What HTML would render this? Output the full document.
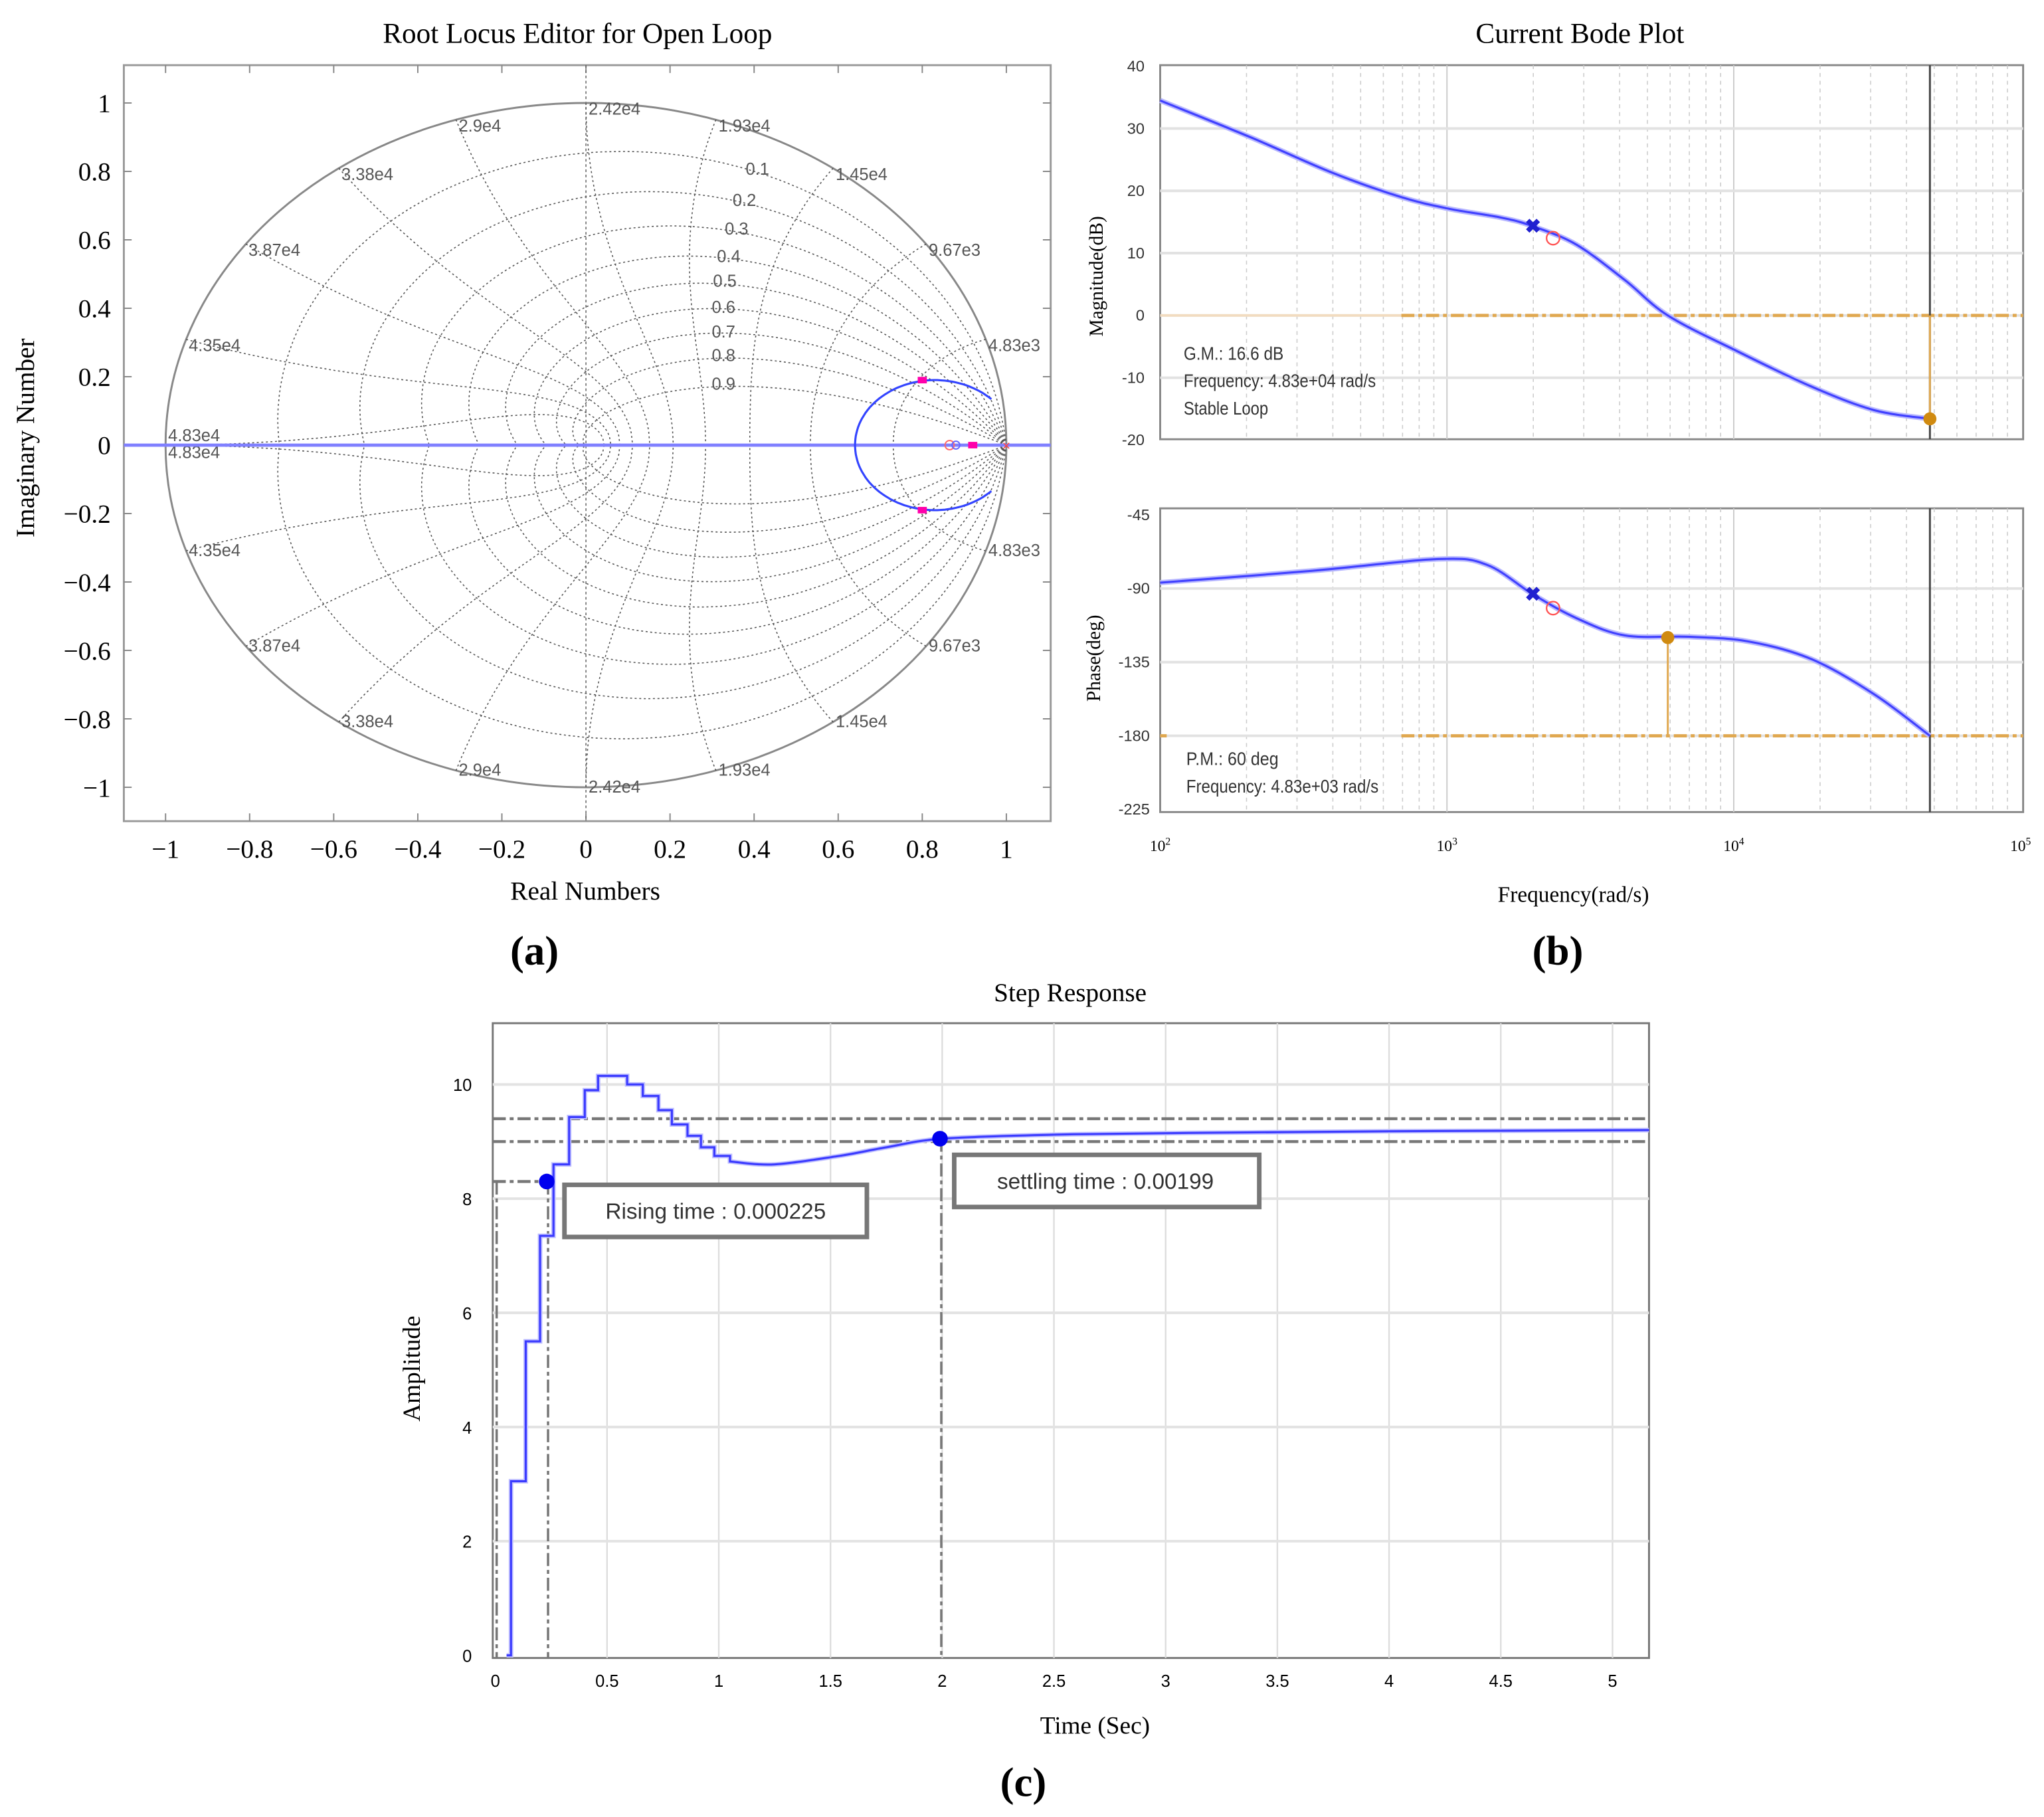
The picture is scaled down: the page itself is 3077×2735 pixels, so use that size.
<!DOCTYPE html>
<html><head><meta charset="utf-8"><style>
html,body{margin:0;padding:0;background:#fff;}
svg{display:block;}
.serif{font-family:"Liberation Serif",serif;}
.sans{font-family:"Liberation Sans",sans-serif;}
</style></head><body>
<svg id="fig" xmlns="http://www.w3.org/2000/svg" width="3077" height="2735" viewBox="0 0 1568 1394" preserveAspectRatio="none">
<rect x="0" y="0" width="1568" height="1394" fill="#fff"/>
<g id="rl"></g>
<g id="bode"></g>
<g id="step"></g>
<text x="410" y="740" class="serif" font-size="32" font-weight="bold" text-anchor="middle">(a)</text>
<text x="1195" y="740" class="serif" font-size="32" font-weight="bold" text-anchor="middle">(b)</text>
<text x="785" y="1378" class="serif" font-size="32" font-weight="bold" text-anchor="middle">(c)</text>
</svg>
<script>
// ---------- data ----------
const rlXTicks=[-1,-0.8,-0.6,-0.4,-0.2,0,0.2,0.4,0.6,0.8,1];
const rlYTicks=[1,0.8,0.6,0.4,0.2,0,-0.2,-0.4,-0.6,-0.8,-1];
const zetaVals=[0.1,0.2,0.3,0.4,0.5,0.6,0.7,0.8,0.9];
const wnLabels=["4.83e3","9.67e3","1.45e4","1.93e4","2.42e4","2.9e4","3.38e4","3.87e4","4.35e4","4.83e4"];
const closedPolesRe=[0.8,0.8,0.92];
const closedPolesIm=[0.19,-0.19,0];
const magW=[2,2.315,2.6,2.84,3.01,3.19,3.30,3.45,3.62,3.77,4.01,4.27,4.49,4.684];
const magDb=[34.5,28.6,22.9,19.0,17.1,15.7,14.3,11.4,5.7,0,-5.7,-11.4,-15.2,-16.6];
const phW=[2,2.53,2.97,3.14,3.30,3.45,3.62,3.84,4.05,4.27,4.49,4.684];
const phDeg=[-86.4,-79.2,-72,-75.6,-93.6,-108,-118.7,-119.5,-122.3,-133.1,-154.7,-180];
const magTicks=[40,30,20,10,0,-10,-20];
const phTicks=[-45,-90,-135,-180,-225];
const stepT=[0.05,0.07,0.136,0.2,0.26,0.33,0.4,0.46,0.59,0.66,0.73,0.79,0.86,0.92,0.98,1.05];
const stepY=[0,3.05,5.5,7.35,8.6,9.43,9.9,10.15,10.0,9.8,9.55,9.3,9.1,8.9,8.75,8.65];
const smoothT=[1.05,1.25,1.54,1.75,2.0,2.5,3.1,4.0,5.15];
const smoothY=[8.65,8.6,8.75,8.9,9.05,9.12,9.15,9.18,9.2];
const stepXTicks=[0,0.5,1,1.5,2,2.5,3,3.5,4,4.5,5];
const stepYTicks=[0,2,4,6,8,10];
const riseT=0.23, riseY=8.3, settleT=1.99, settleY=9.05;
const bandHi=9.4, bandLo=9.0;

const NS="http://www.w3.org/2000/svg";
function mk(parent,tag,attrs,txt){const e=document.createElementNS(NS,tag);for(const k in attrs)e.setAttribute(k,attrs[k]);if(txt!==undefined)e.textContent=txt;parent.appendChild(e);return e;}
const fmt=v=>(v<0?"\u2212":"")+String(Math.abs(v));
function spline(pts){let d="M"+pts[0][0].toFixed(1)+" "+pts[0][1].toFixed(1);
for(let i=0;i<pts.length-1;i++){const p0=pts[Math.max(0,i-1)],p1=pts[i],p2=pts[i+1],p3=pts[Math.min(pts.length-1,i+2)];
const c1=[p1[0]+(p2[0]-p0[0])/6,p1[1]+(p2[1]-p0[1])/6],c2=[p2[0]-(p3[0]-p1[0])/6,p2[1]-(p3[1]-p1[1])/6];
d+="C"+c1[0].toFixed(1)+" "+c1[1].toFixed(1)+" "+c2[0].toFixed(1)+" "+c2[1].toFixed(1)+" "+p2[0].toFixed(1)+" "+p2[1].toFixed(1);}
return d;}

// ---------- root locus ----------
(function(){
const g=document.getElementById('rl');
const X=v=>449.5+v*322.5, Y=v=>341.5-v*262.5;
mk(g,'text',{x:443,y:33,'font-size':22,'text-anchor':'middle',class:'serif',},'Root Locus Editor for Open Loop');
const box=mk(g,'rect',{x:95,y:50,width:711,height:580,fill:'none',stroke:'#999','stroke-width':1.5});

rlXTicks.forEach(v=>{const t=mk(g,'text',{x:X(v),y:658,'font-size':20,'text-anchor':'middle',class:'serif'},fmt(v));

mk(g,'line',{x1:X(v),x2:X(v),y1:50,y2:56,stroke:'#888'});mk(g,'line',{x1:X(v),x2:X(v),y1:624,y2:630,stroke:'#888'});});
rlYTicks.forEach(v=>{const t=mk(g,'text',{x:85,y:Y(v)+7,'font-size':20,'text-anchor':'end',class:'serif'},fmt(v));

mk(g,'line',{x1:95,x2:101,y1:Y(v),y2:Y(v),stroke:'#888'});mk(g,'line',{x1:800,x2:806,y1:Y(v),y2:Y(v),stroke:'#888'});});
const xl=mk(g,'text',{x:449,y:690,'font-size':20,'text-anchor':'middle',class:'serif'},'Real Numbers');

const yl=mk(g,'text',{x:26,y:336,'font-size':20,'text-anchor':'middle',class:'serif',transform:'rotate(-90 26 336)'},'Imaginary Number');

mk(g,'line',{x1:X(0),x2:X(0),y1:50,y2:630,stroke:'#666','stroke-dasharray':'2 2','stroke-width':0.8});
const uc=mk(g,'ellipse',{cx:X(0),cy:Y(0),rx:322.5,ry:262.5,fill:'none',stroke:'#888','stroke-width':1.5});

const dot={fill:'none',stroke:'#555','stroke-width':0.8,'stroke-dasharray':'1.5 2'};
zetaVals.forEach(z=>{const s=Math.sqrt(1-z*z);let d1="",d2="";
for(let i=0;i<=200;i++){const w=Math.PI/s*i/200;const r=Math.exp(-z*w);const a=w*s;
const px=X(r*Math.cos(a)),py1=Y(r*Math.sin(a)),py2=Y(-r*Math.sin(a));
d1+=(i?"L":"M")+px.toFixed(1)+" "+py1.toFixed(1);d2+=(i?"L":"M")+px.toFixed(1)+" "+py2.toFixed(1);}
const p=mk(g,'path',Object.assign({d:d1+d2},dot));});
for(let k=1;k<=10;k++){const wn=k*Math.PI/10;let d1="",d2="";
for(let i=0;i<=100;i++){const z=i/100;const s=Math.sqrt(1-z*z);const r=Math.exp(-z*wn);const a=wn*s;
d1+=(i?"L":"M")+X(r*Math.cos(a)).toFixed(1)+" "+Y(r*Math.sin(a)).toFixed(1);d2+=(i?"L":"M")+X(r*Math.cos(a)).toFixed(1)+" "+Y(-r*Math.sin(a)).toFixed(1);}
const p=mk(g,'path',Object.assign({d:d1+d2},dot));
const lab=wnLabels[k-1];const a=wn;const lx=X(Math.cos(a)),ly1=Y(Math.sin(a)),ly2=Y(-Math.sin(a));
const t1=mk(g,'text',{x:lx+2,y:ly1+(k===10?-3:9),'font-size':13,fill:'#555',class:'sans'},lab);

const t2=mk(g,'text',{x:lx+2,y:ly2+(k===10?10:4),'font-size':13,fill:'#555',class:'sans'},lab);
}
const zl=[[572,134],[562,158],[556,180],[550,201],[547,220],[546,240],[546,259],[546,277],[546,299]];
zetaVals.forEach((z,i)=>{const t=mk(g,'text',{x:zl[i][0],y:zl[i][1],'font-size':13,fill:'#555',class:'sans'},String(z));
});
const ra=mk(g,'line',{x1:95,x2:806,y1:Y(0),y2:Y(0),stroke:'#8080ff','stroke-width':2.5});

let d="";const cx=0.83,r=0.19;for(let i=0;i<=100;i++){const a=(45+i*270/100)*Math.PI/180;d+=(i?"L":"M")+X(cx+r*Math.cos(a)).toFixed(1)+" "+Y(r*Math.sin(a)).toFixed(1);}
const lc=mk(g,'path',{d:d,fill:'none',stroke:'#3344ff','stroke-width':1.6});

closedPolesRe.forEach((re,i)=>{const m=mk(g,'rect',{x:X(re)-3.5,y:Y(closedPolesIm[i])-2.5,width:7,height:5,fill:'#ff00aa'});
});
const z1=mk(g,'circle',{cx:X(0.865),cy:Y(0),r:3.5,fill:'none',stroke:'#f66','stroke-width':1});
const z2=mk(g,'circle',{cx:X(0.88),cy:Y(0),r:3,fill:'none',stroke:'#66f','stroke-width':1});
const px=mk(g,'text',{x:X(1),y:Y(0)+4,'font-size':11,fill:'#f44','text-anchor':'middle',class:'sans'},'×');
})();

// ---------- bode ----------
(function(){
const g=document.getElementById('bode');
const X=lw=>890+(lw-2)*220;
const YM=v=>242-v*4.78, YP=v=>395+(-45-v)*(226/180);
mk(g,'text',{x:1212,y:33,'font-size':22,'text-anchor':'middle',class:'serif',},'Current Bode Plot');
function panel(y0,y1,name){
const r=mk(g,'rect',{x:890,y:y0,width:662,height:y1-y0,fill:'#fff',stroke:'#888','stroke-width':1.5});

for(let dec=2;dec<5;dec++)for(let m=2;m<=9;m++){const x=X(dec+Math.log10(m));mk(g,'line',{x1:x,x2:x,y1:y0,y2:y1,stroke:'#ccc','stroke-width':0.8,'stroke-dasharray':'3 3'});}
for(let dec=3;dec<5;dec++)mk(g,'line',{x1:X(dec),x2:X(dec),y1:y0,y2:y1,stroke:'#ccc','stroke-width':1});}
panel(50,337,'magnitude-plot-area');panel(390,623,'phase-plot-area');
magTicks.forEach(v=>{if(v!==40&&v!==-20)mk(g,'line',{x1:890,x2:1552,y1:YM(v),y2:YM(v),stroke:'#e2e2e2','stroke-width':2});
const t=mk(g,'text',{x:878,y:YM(v)+4,'font-size':12,'text-anchor':'end',class:'sans',fill:'#333'},String(v));
});
phTicks.forEach(v=>{if(v!==-45&&v!==-225)mk(g,'line',{x1:890,x2:1552,y1:YP(v),y2:YP(v),stroke:'#e2e2e2','stroke-width':2});
const t=mk(g,'text',{x:882,y:YP(v)+4,'font-size':12,'text-anchor':'end',class:'sans',fill:'#333'},String(v));
});
[2,3,4,5].forEach(e=>{const t=mk(g,'text',{x:X(e),y:653,'font-size':12,'text-anchor':'middle',class:'serif'});

t.textContent="10";mk(t,'tspan',{dy:-5,'font-size':8},String(e));});
const ml=mk(g,'text',{x:846,y:212,'font-size':15,'text-anchor':'middle',class:'serif',transform:'rotate(-90 846 212)'},'Magnitude(dB)');

const pl=mk(g,'text',{x:844,y:505,'font-size':15,'text-anchor':'middle',class:'serif',transform:'rotate(-90 844 505)'},'Phase(deg)');

const fl=mk(g,'text',{x:1207,y:692,'font-size':17,'text-anchor':'middle',class:'serif'},'Frequency(rad/s)');

const o1=mk(g,'line',{x1:890,x2:1075,y1:YM(0),y2:YM(0),stroke:'#f2dcc0','stroke-width':2});
const o2=mk(g,'line',{x1:1075,x2:1552,y1:YM(0),y2:YM(0),stroke:'#e0a850','stroke-width':2.5,'stroke-dasharray':'10 3 3 3'});
const o3=mk(g,'line',{x1:890,x2:895,y1:YP(-180),y2:YP(-180),stroke:'#e0a850','stroke-width':2.5});
const o4=mk(g,'line',{x1:1075,x2:1552,y1:YP(-180),y2:YP(-180),stroke:'#e0a850','stroke-width':2.5,'stroke-dasharray':'10 3 3 3'});
const gmW=magW[magW.length-1];
[[50,337],[390,623]].forEach(p=>{const l=mk(g,'line',{x1:X(gmW),x2:X(gmW),y1:p[0],y2:p[1],stroke:'#444','stroke-width':1.5});});
function curve(xs,ys,Yf,name){const d=spline(xs.map((x,i)=>[X(x),Yf(ys[i])]));
mk(g,'path',{d:d,fill:'none',stroke:'#b8b8ff','stroke-width':4,'stroke-linejoin':'round'});
const p=mk(g,'path',{d:d,fill:'none',stroke:'#4040ff','stroke-width':1.6,'stroke-linejoin':'round'});}
curve(magW,magDb,YM,'magnitude-curve');curve(phW,phDeg,YP,'phase-curve');
const gmDb=magDb[magDb.length-1];
const v1=mk(g,'line',{x1:X(gmW),x2:X(gmW),y1:YM(0),y2:YM(gmDb),stroke:'#e0a850','stroke-width':1.5});
const d1=mk(g,'circle',{cx:X(gmW),cy:YM(gmDb),r:5,fill:'#d08a10'});
const pmW=3.77,pmPh=-120;
const v2=mk(g,'line',{x1:X(pmW),x2:X(pmW),y1:YP(-180),y2:YP(pmPh),stroke:'#e0a850','stroke-width':1.5});
const d2=mk(g,'circle',{cx:X(pmW),cy:YP(pmPh),r:5,fill:'#d08a10'});
[[3.30,14.3,YM],[3.30,-93.6,YP]].forEach(m=>{const t=mk(g,'text',{x:X(m[0]),y:m[2](m[1])+5,'font-size':15,'font-weight':'bold',fill:'#2020d0','text-anchor':'middle',class:'sans'},'✖');
});
[[3.37,12.4,YM],[3.37,-102,YP]].forEach(m=>{const c=mk(g,'circle',{cx:X(m[0]),cy:m[2](m[1]),r:5,fill:'none',stroke:'#f55','stroke-width':1.2});
});
const lines1=['G.M.: 16.6 dB','Frequency: 4.83e+04 rad/s','Stable Loop'];
lines1.forEach((s,i)=>{const t=mk(g,'text',{x:908,y:276+i*21,'font-size':14,class:'sans',fill:'#333',textLength:s.length*5.9,lengthAdjust:'spacingAndGlyphs'},s);});
const lines2=['P.M.: 60 deg','Frequency: 4.83e+03 rad/s'];
lines2.forEach((s,i)=>{const t=mk(g,'text',{x:910,y:587+i*21,'font-size':14,class:'sans',fill:'#333',textLength:s.length*5.9,lengthAdjust:'spacingAndGlyphs'},s);});
})();

// ---------- step ----------
(function(){
const g=document.getElementById('step');
const X=t=>380+t*171.4, Y=v=>1270-v*43.8;
mk(g,'text',{x:821,y:768,'font-size':20,'text-anchor':'middle',class:'serif',},'Step Response');
const r=mk(g,'rect',{x:378,y:785,width:887,height:487,fill:'#fff',stroke:'#777','stroke-width':1.5});

stepXTicks.forEach(v=>{if(v>0)mk(g,'line',{x1:X(v),x2:X(v),y1:785,y2:1272,stroke:'#ddd','stroke-width':1.2});
const t=mk(g,'text',{x:X(v),y:1294,'font-size':13,'text-anchor':'middle',class:'sans'},String(v));});
stepYTicks.forEach(v=>{if(v>0)mk(g,'line',{x1:378,x2:1265,y1:Y(v),y2:Y(v),stroke:'#e3e3e3','stroke-width':2});
const t=mk(g,'text',{x:362,y:Y(v)+5,'font-size':13,'text-anchor':'end',class:'sans'},String(v));});
const yl=mk(g,'text',{x:322,y:1050,'font-size':19,'text-anchor':'middle',class:'serif',transform:'rotate(-90 322 1050)'},'Amplitude');

const xl=mk(g,'text',{x:840,y:1330,'font-size':19,'text-anchor':'middle',class:'serif'},'Time (Sec)');

const dd={stroke:'#777','stroke-width':2.2,'stroke-dasharray':'10 3 3 3',fill:'none'};
[bandHi,bandLo].forEach(v=>{const l=mk(g,'line',Object.assign({x1:378,x2:1265,y1:Y(v),y2:Y(v)},dd));});
const h=mk(g,'line',Object.assign({x1:378,x2:X(riseT),y1:Y(riseY),y2:Y(riseY)},dd));
[[0.0,riseY],[riseT,riseY],[settleT,settleY]].forEach(p=>{const l=mk(g,'line',Object.assign({x1:X(p[0])+1,x2:X(p[0])+1,y1:Y(p[1]),y2:1272},dd,{'stroke-width':1.8}));});
let d="M"+X(stepT[0]).toFixed(1)+" "+Y(0).toFixed(1);
for(let i=1;i<stepT.length;i++){d+="L"+X(stepT[i]).toFixed(1)+" "+Y(stepY[i-1]).toFixed(1)+"L"+X(stepT[i]).toFixed(1)+" "+Y(stepY[i]).toFixed(1);}
const sp=spline(smoothT.map((t,i)=>[X(Math.min(t,5.15)),Y(smoothY[i])]));
d+="L"+sp.slice(1);
d+="L1265 "+Y(smoothY[smoothY.length-1]).toFixed(1);
mk(g,'path',{d:d,fill:'none',stroke:'#c0c0ff','stroke-width':3.5});
const p=mk(g,'path',{d:d,fill:'none',stroke:'#3a3aff','stroke-width':1.6});
const c1=mk(g,'circle',{cx:X(riseT),cy:Y(riseY),r:6,fill:'#0000ee'});
const c2=mk(g,'circle',{cx:X(settleT),cy:Y(settleY),r:6,fill:'#0000ee'});
const b1=mk(g,'rect',{x:433,y:909,width:232,height:40,fill:'#fff',stroke:'#777','stroke-width':3.5});
const t1=mk(g,'text',{x:549,y:935,'font-size':17,'text-anchor':'middle',class:'sans',fill:'#333'},'Rising time : 0.000225');
const b2=mk(g,'rect',{x:732,y:886,width:234,height:40,fill:'#fff',stroke:'#777','stroke-width':3.5});
const t2=mk(g,'text',{x:848,y:912,'font-size':17,'text-anchor':'middle',class:'sans',fill:'#333'},'settling time : 0.00199');
})();
</script>
</body></html>
